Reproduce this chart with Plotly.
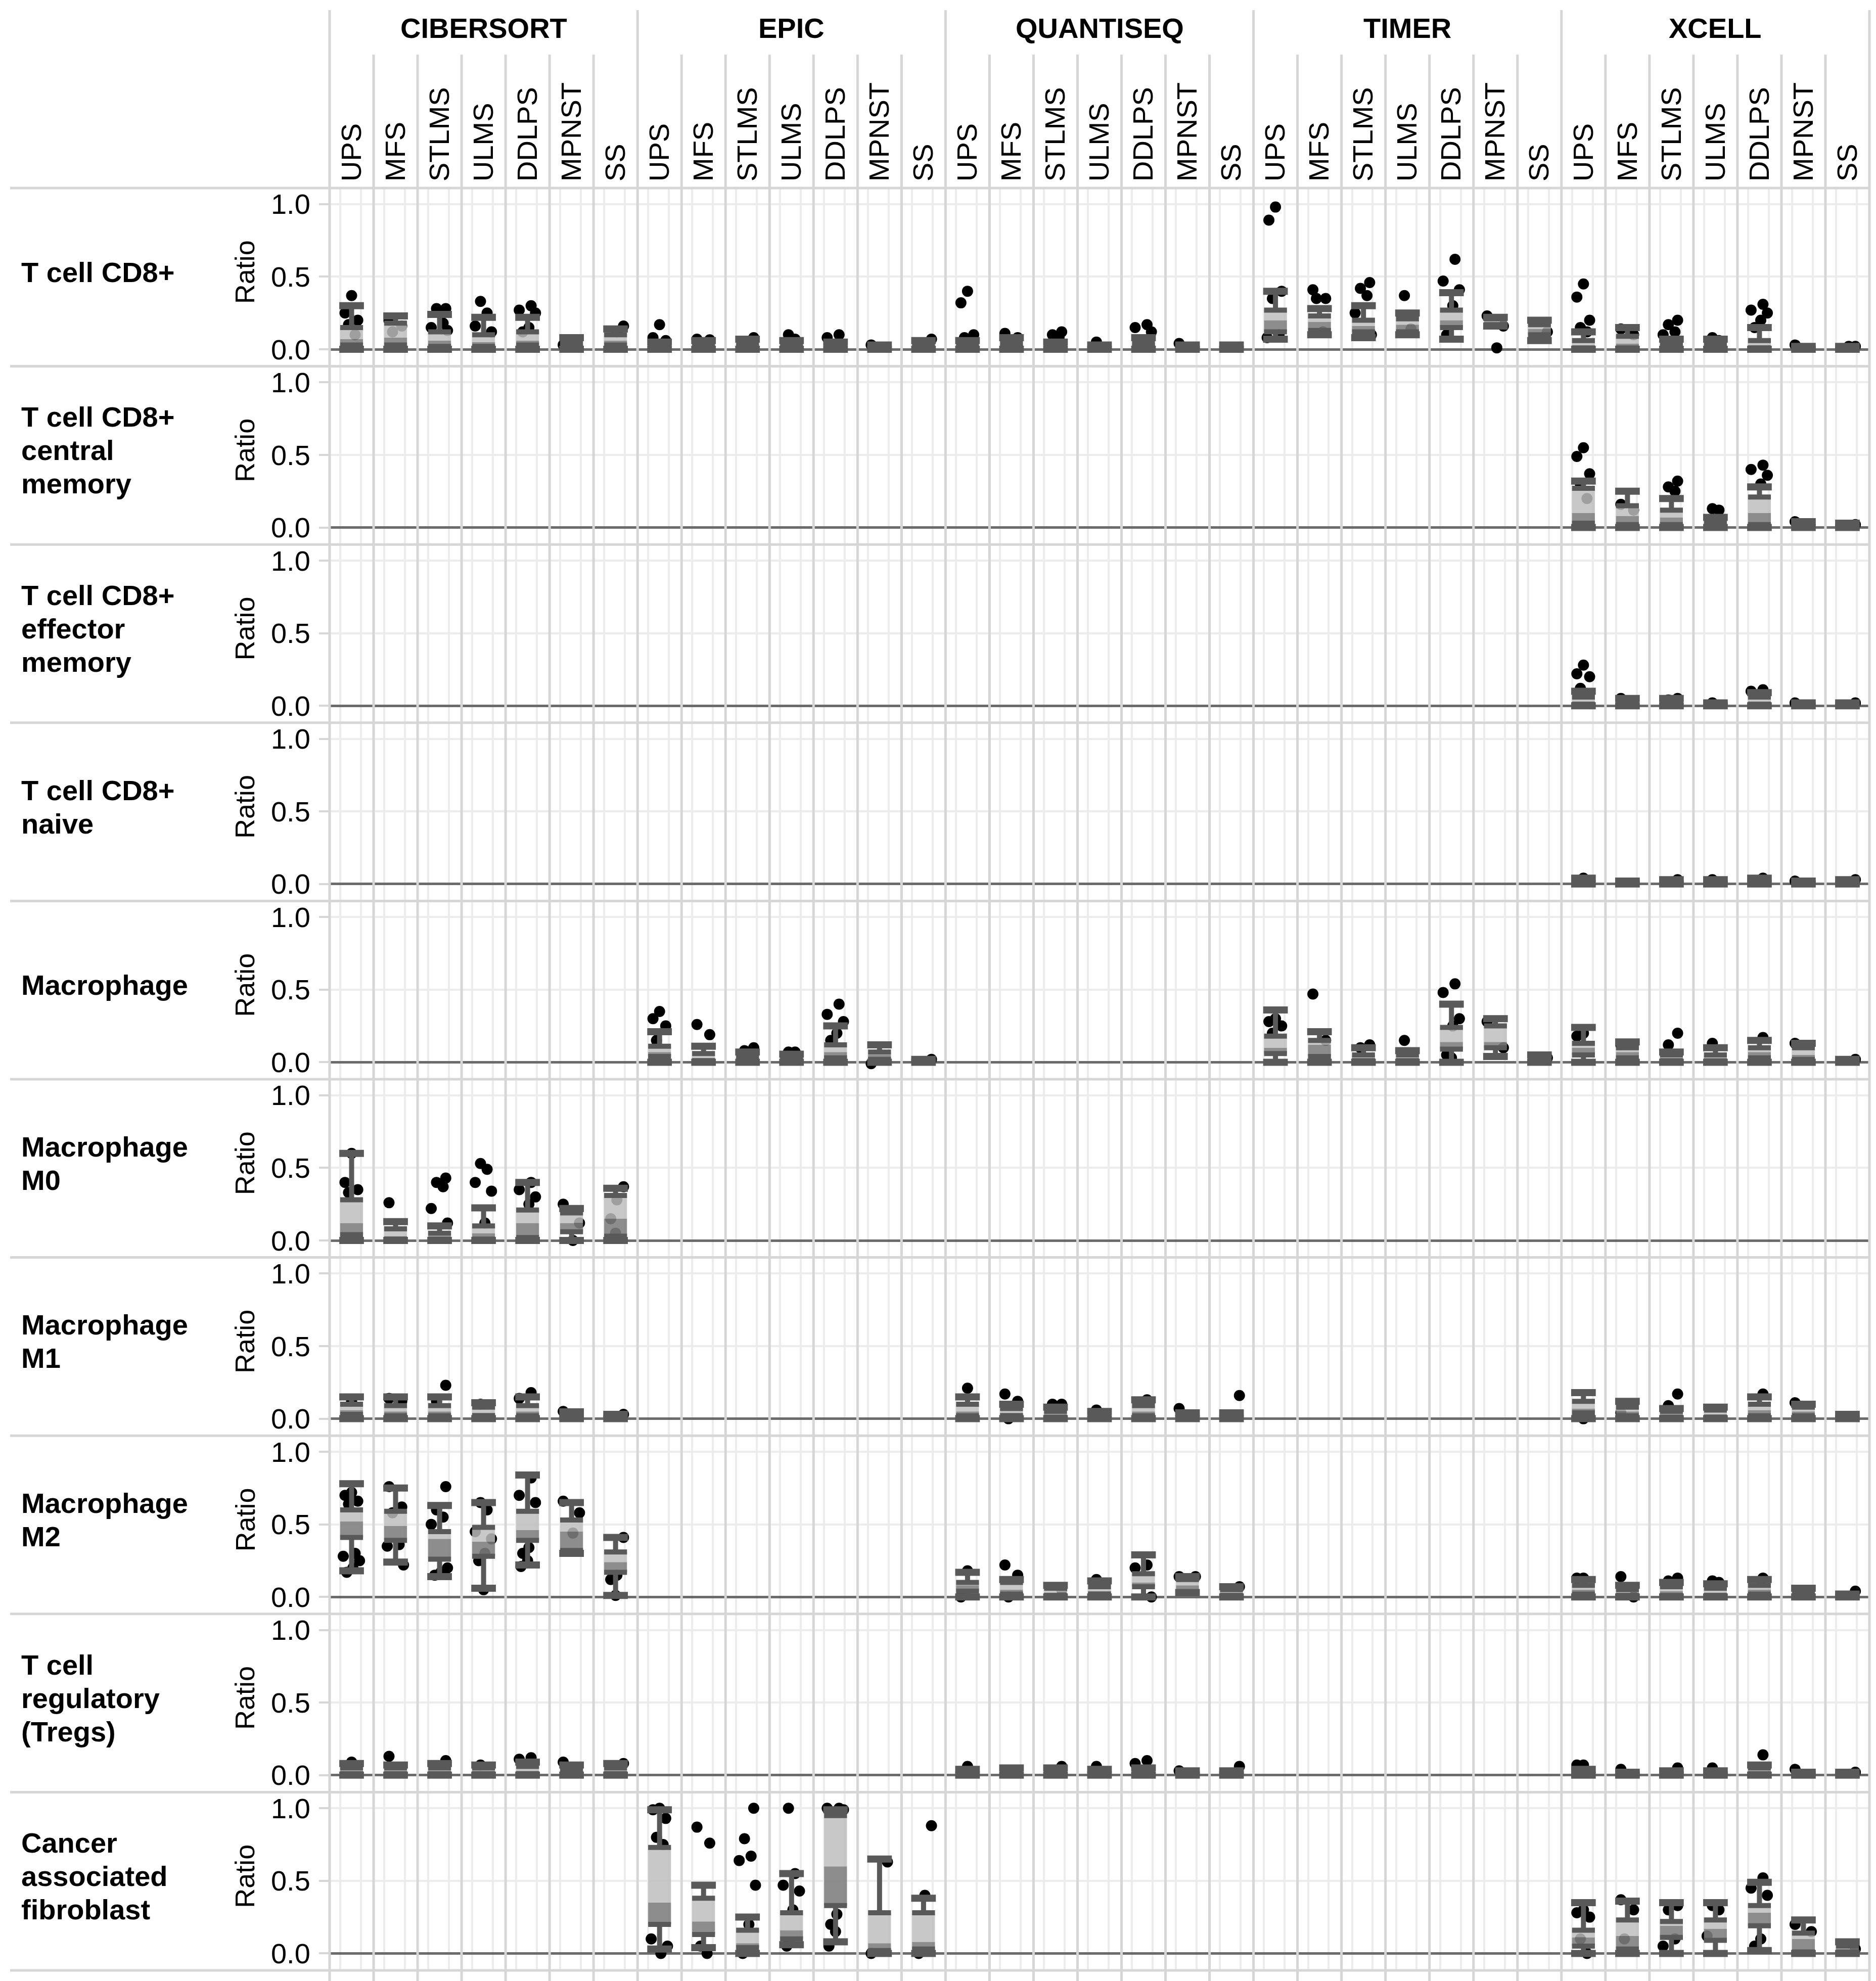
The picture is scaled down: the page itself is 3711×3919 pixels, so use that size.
import plotly.graph_objects as go
from plotly.subplots import make_subplots

# Categories
METHODS = ["CIBERSORT", "EPIC", "QUANTISEQ", "TIMER", "XCELL"]
SARCOMAS = ["UPS", "MFS", "STLMS", "ULMS", "DDLPS", "MPNST", "SS"]
CELL_LABELS = [
    ["T cell CD8+"],
    ["T cell CD8+", "central", "memory"],
    ["T cell CD8+", "effector", "memory"],
    ["T cell CD8+", "naive"],
    ["Macrophage"],
    ["Macrophage", "M0"],
    ["Macrophage", "M1"],
    ["Macrophage", "M2"],
    ["T cell", "regulatory", "(Tregs)"],
    ["Cancer", "associated", "fibroblast"],
]

# Box statistics per sarcoma type: (min, q1, median, q3, max), and single points
CD8_CIBERSORT = [(0, .03, .07, .15, .30), (0, .03, .08, .18, .23), (0, .02, .06, .12, .24), (0, .02, .05, .10, .22),
                 (0, .03, .06, .12, .22), (0, .01, .02, .04, .08), (0, .03, .06, .10, .14)]
CD8_CIBERSORT_PTS = [[.37, .25, .20, .17, .10], [.20, .16, .12], [.28, .28, .18, .15, .13], [.33, .25, .16, .12],
                     [.30, .27, .25, .15, .12], [.03], [.16, .12]]
CD8_EPIC = [(0, .005, .01, .02, .05), (0, .01, .02, .03, .06), (0, .01, .02, .04, .07), (0, .01, .02, .03, .06),
            (0, .01, .02, .03, .05), (0, .005, .01, .02, .03), (0, .01, .02, .03, .06)]
CD8_EPIC_PTS = [[.17, .08, .06], [.07, .065], [.08], [.10, .07], [.10, .08], [.03], [.07]]
CD8_QUANTISEQ = [(0, .01, .02, .03, .06), (0, .01, .02, .04, .08), (0, .01, .02, .03, .05), (0, .005, .01, .02, .03),
                 (0, .01, .02, .04, .08), (0, .005, .01, .02, .03), (0, .005, .01, .02, .03)]
CD8_QUANTISEQ_PTS = [[.40, .32, .10, .08], [.11, .08], [.12, .10, .08], [.05], [.17, .15, .12], [.04], []]
CD8_TIMER = [(.07, .12, .20, .27, .40), (.10, .13, .19, .23, .28), (.08, .12, .16, .20, .30), (.10, .12, .17, .21, .25),
             (.07, .15, .20, .27, .39), (.16, .17, .19, .21, .22), (.06, .10, .14, .17, .20)]
CD8_TIMER_PTS = [[.98, .89, .40, .35, .10, .08], [.41, .35, .35, .12], [.46, .42, .37, .25, .10], [.37, .14],
                 [.62, .47, .41, .30, .10], [.23, .16, .01], [.12]]
CD8_XCELL = [(0, .01, .02, .06, .12), (0, .01, .04, .09, .15), (0, .01, .02, .04, .07), (0, .01, .02, .04, .07),
             (0, .01, .03, .06, .15), (0, .005, .01, .015, .02), (0, .005, .01, .015, .02)]
CD8_XCELL_PTS = [[.45, .36, .20, .15, .12], [.14, .10], [.20, .17, .12, .10], [.08, .06], [.31, .27, .25, .20, .15],
                 [.03], [.02, .02]]

CD8CM_XCELL = [(0, .03, .10, .27, .32), (0, .02, .08, .15, .25), (0, .02, .07, .12, .20), (0, .005, .02, .04, .07),
               (0, .02, .10, .21, .28), (0, .005, .01, .02, .04), (0, .005, .01, .015, .03)]
CD8CM_XCELL_PTS = [[.55, .49, .37, .30, .20], [.16, .12], [.32, .28, .25], [.13, .12], [.43, .40, .36, .30], [.04],
                   [.02]]

CD8EM_XCELL = [(0, .01, .03, .06, .10), (0, .005, .02, .03, .05), (0, .005, .02, .03, .05), (0, .005, .01, .015, .02),
               (0, .01, .03, .06, .09), (0, .005, .01, .015, .02), (0, .005, .01, .015, .02)]
CD8EM_XCELL_PTS = [[.28, .22, .20, .12], [.05], [.05, .04], [.02], [.11, .10], [.02], [.02]]

CD8N_XCELL = [(0, .01, .02, .03, .04), (0, .005, .01, .015, .02), (0, .005, .01, .02, .03), (0, .005, .01, .02, .03),
              (0, .01, .02, .03, .04), (0, .005, .01, .015, .02), (0, .005, .01, .02, .03)]
CD8N_XCELL_PTS = [[.04], [], [.03], [.03], [.04], [.02], [.03]]

MAC_EPIC = [(0, .04, .07, .11, .21), (0, .01, .03, .06, .11), (0, .01, .02, .04, .07), (0, .01, .02, .03, .055),
            (0, .03, .07, .12, .25), (0, .02, .05, .07, .12), (0, .005, .01, .015, .02)]
MAC_EPIC_PTS = [[.35, .30, .25, .15], [.26, .19], [.10, .08], [.07, .07], [.40, .33, .28, .20, .15], [-.01], [.02]]
MAC_TIMER = [(0, .06, .10, .18, .36), (0, .04, .12, .15, .21), (0, .01, .03, .05, .10), (0, .01, .03, .05, .08),
             (0, .09, .14, .24, .40), (.04, .10, .14, .25, .30), (0, .01, .02, .03, .05)]
MAC_TIMER_PTS = [[.30, .28, .25, .20], [.47, .15], [.12, .10], [.15], [.54, .48, .30, .25, .05, .03], [.28, .10],
                 [.03]]
MAC_XCELL = [(0, .05, .10, .13, .24), (0, .03, .07, .10, .14), (0, .01, .03, .05, .07), (0, .01, .02, .05, .10),
             (0, .03, .07, .10, .15), (0, .02, .05, .10, .13), (0, .005, .01, .015, .02)]
MAC_XCELL_PTS = [[.20, .18], [.12], [.20, .12], [.13], [.17], [.13], [.02]]

M0_CIBERSORT = [(0, .04, .12, .28, .60), (0, .01, .03, .08, .13), (0, .01, .03, .05, .10), (0, .01, .05, .10, .225),
                (0, .02, .12, .21, .40), (0, .06, .12, .19, .22), (0, .03, .15, .31, .36)]
M0_CIBERSORT_PTS = [[.60, .40, .35, .33], [.26], [.43, .40, .37, .22, .12], [.53, .49, .40, .34, .12],
                    [.40, .35, .30, .25], [.25, .12, 0], [.37, .28, .15, .05]]

M1_CIBERSORT = [(0, .03, .06, .10, .15), (0, .02, .05, .09, .15), (0, .02, .05, .09, .15), (0, .02, .04, .08, .11),
                (0, .02, .05, .09, .15), (0, .01, .02, .03, .047), (0, .005, .01, .02, .03)]
M1_CIBERSORT_PTS = [[.12], [.14, .12], [.23, .12], [.10], [.18, .14], [.05], [.03]]
M1_QUANTISEQ = [(0, .02, .05, .10, .15), (0, .02, .04, .07, .10), (0, .01, .03, .05, .08), (0, .01, .02, .03, .05),
                (0, .02, .05, .09, .13), (0, .005, .01, .02, .04), (0, .005, .01, .02, .04)]
M1_QUANTISEQ_PTS = [[.21], [.17, .12, 0], [.10, .10], [.06], [.13], [.07], [.16]]
M1_XCELL = [(0, .04, .07, .12, .18), (0, .02, .05, .08, .12), (0, .01, .03, .05, .07), (0, .01, .03, .06, .08),
            (0, .02, .06, .10, .15), (0, .02, .05, .08, .10), (0, .005, .01, .02, .03)]
M1_XCELL_PTS = [[0], [.04], [.17, .09], [], [.17], [.11], []]

M2_CIBERSORT = [(.18, .41, .52, .60, .78), (.24, .39, .49, .59, .75), (.14, .26, .40, .45, .63),
                (.06, .28, .38, .48, .65), (.22, .39, .46, .59, .84), (.30, .32, .45, .53, .65),
                (.01, .17, .24, .31, .41)]
M2_CIBERSORT_PTS = [[.72, .70, .66, .64, .30, .28, .25, .20, .17], [.76, .62, .58, .36, .35, .22],
                    [.76, .60, .55, .50, .20, .17, .15], [.65, .60, .45, .40, .30, .25, .05],
                    [.82, .70, .65, .34, .30, .25, .21], [.66, .58, .44], [.41, .15, .12, .01]]
M2_QUANTISEQ = [(0, .04, .08, .10, .17), (0, .02, .05, .10, .12), (0, .01, .03, .06, .08), (0, .02, .04, .07, .11),
                (0, .07, .10, .16, .29), (.03, .03, .08, .12, .14), (0, .01, .03, .05, .07)]
M2_QUANTISEQ_PTS = [[.18, 0], [.22, .15, 0], [.05], [.12], [.22, .20, 0], [.14, .14], [.07]]
M2_XCELL = [(0, .02, .05, .08, .12), (0, .01, .03, .05, .08), (0, .01, .04, .07, .10), (0, .01, .03, .06, .09),
            (0, .02, .05, .08, .12), (0, .01, .02, .04, .06), (0, .005, .01, .015, .02)]
M2_XCELL_PTS = [[.13, .13], [.14, 0], [.13, .11], [.11, .10], [.13], [], [.04]]

TREG_CIBERSORT = [(0, .01, .03, .05, .08), (0, .01, .03, .05, .07), (0, .01, .03, .05, .08), (0, .01, .03, .05, .07),
                  (0, .01, .03, .06, .09), (0, .01, .02, .04, .07), (0, .01, .03, .05, .08)]
TREG_CIBERSORT_PTS = [[.09], [.13], [.10], [.07], [.12, .11], [.09], [.08]]
TREG_QUANTISEQ = [(0, .005, .01, .02, .04), (0, .005, .01, .03, .05), (0, .005, .01, .03, .05),
                  (0, .005, .01, .02, .04), (0, .005, .01, .03, .05), (0, .005, .01, .02, .03),
                  (0, .005, .01, .02, .03)]
TREG_QUANTISEQ_PTS = [[.06], [], [.06], [.06], [.10, .08], [.03], [.06]]
TREG_XCELL = [(0, .005, .01, .02, .04), (0, .005, .01, .015, .02), (0, .005, .01, .02, .03), (0, .005, .01, .02, .03),
              (0, .01, .03, .05, .07), (0, .005, .01, .015, .02), (0, .005, .01, .015, .02)]
TREG_XCELL_PTS = [[.07, .07], [.04], [.05], [.05], [.14], [.04], [.02]]

CAF_EPIC = [(.03, .20, .35, .73, .99), (.04, .13, .22, .38, .47), (0, .04, .07, .16, .25), (.06, .10, .16, .28, .55),
            (.08, .33, .60, .95, .99), (0, .02, .07, .28, .65), (0, .03, .08, .28, .38)]
CAF_EPIC_PTS = [[1.0, .99, .93, .80, .75, .10, .05, 0], [.87, .76, .05, 0], [1.0, .79, .67, .64, .47, .20, 0],
                [1.0, .55, .47, .43, .30, .05], [1.0, 1.0, .99, .27, .20, .15, .05], [0, .63], [.88, .40, 0]]
CAF_XCELL = [(0, .05, .11, .16, .35), (0, .03, .12, .23, .36), (0, .11, .19, .22, .35), (0, .09, .17, .23, .35),
             (.02, .19, .28, .33, .49), (0, .01, .10, .14, .23), (0, .01, .03, .05, .08)]
CAF_XCELL_PTS = [[.30, .28, .25, .10, 0], [.37, .30, .10], [.33, .30, .10, .05], [.33, .30, .12],
                 [.52, .45, .40, .10, .05], [.20, .15], [.03]]

# (row, method) -> (stats, points)
PANELS = {
    (0, "CIBERSORT"): (CD8_CIBERSORT, CD8_CIBERSORT_PTS),
    (0, "EPIC"): (CD8_EPIC, CD8_EPIC_PTS),
    (0, "QUANTISEQ"): (CD8_QUANTISEQ, CD8_QUANTISEQ_PTS),
    (0, "TIMER"): (CD8_TIMER, CD8_TIMER_PTS),
    (0, "XCELL"): (CD8_XCELL, CD8_XCELL_PTS),
    (1, "XCELL"): (CD8CM_XCELL, CD8CM_XCELL_PTS),
    (2, "XCELL"): (CD8EM_XCELL, CD8EM_XCELL_PTS),
    (3, "XCELL"): (CD8N_XCELL, CD8N_XCELL_PTS),
    (4, "EPIC"): (MAC_EPIC, MAC_EPIC_PTS),
    (4, "TIMER"): (MAC_TIMER, MAC_TIMER_PTS),
    (4, "XCELL"): (MAC_XCELL, MAC_XCELL_PTS),
    (5, "CIBERSORT"): (M0_CIBERSORT, M0_CIBERSORT_PTS),
    (6, "CIBERSORT"): (M1_CIBERSORT, M1_CIBERSORT_PTS),
    (6, "QUANTISEQ"): (M1_QUANTISEQ, M1_QUANTISEQ_PTS),
    (6, "XCELL"): (M1_XCELL, M1_XCELL_PTS),
    (7, "CIBERSORT"): (M2_CIBERSORT, M2_CIBERSORT_PTS),
    (7, "QUANTISEQ"): (M2_QUANTISEQ, M2_QUANTISEQ_PTS),
    (7, "XCELL"): (M2_XCELL, M2_XCELL_PTS),
    (8, "CIBERSORT"): (TREG_CIBERSORT, TREG_CIBERSORT_PTS),
    (8, "QUANTISEQ"): (TREG_QUANTISEQ, TREG_QUANTISEQ_PTS),
    (8, "XCELL"): (TREG_XCELL, TREG_XCELL_PTS),
    (9, "EPIC"): (CAF_EPIC, CAF_EPIC_PTS),
    (9, "XCELL"): (CAF_XCELL, CAF_XCELL_PTS),
}

# Layout in pixels
W, H = 3711, 3919
LEFT, RIGHT = 644, 3690
HEAD, BOTTOM = 364, 3890
COL_W = (RIGHT - LEFT) / 5
ROW_H = (BOTTOM - HEAD) / 10
LINE_H = 66
FONT = "Liberation Sans"
DARK = "#595959"
SEP = "#d6d6d6"
LIGHT = "#ececec"
BOX_HW, CAP_HW = 0.26, 0.28
JITTER = [0.0, -0.15, 0.14, -0.07, 0.08, -0.19, 0.18, 0.03, -0.11]

fig = make_subplots(rows=10, cols=5, horizontal_spacing=0, vertical_spacing=0)

for r in range(10):
    for c in range(5):
        fig.update_xaxes(domain=[(LEFT + c * COL_W) / W, (LEFT + (c + 1) * COL_W) / W], row=r + 1, col=c + 1)
        fig.update_yaxes(domain=[1 - (HEAD + (r + 1) * ROW_H) / H, 1 - (HEAD + r * ROW_H) / H],
                         row=r + 1, col=c + 1)
        # an empty trace so that every panel gets its grid drawn
        fig.add_trace(go.Scatter(x=[None], y=[None], mode="markers", hoverinfo="skip"), row=r + 1, col=c + 1)


def add_panel(r, c, stats, pts):
    # jittered points first, so the boxes sit on top of them
    xs, ys = [], []
    for i, vals in enumerate(pts):
        for k, v in enumerate(vals):
            xs.append(i + JITTER[(k + i) % len(JITTER)])
            ys.append(v)
    fig.add_trace(go.Scatter(x=xs, y=ys, mode="markers", marker=dict(color="black", size=22),
                             hoverinfo="skip"), row=r + 1, col=c + 1)

    lo_x, lo_y, up_x, up_y = [], [], [], []
    wx, wy, cx, cy, qx, qy = [], [], [], [], [], []
    for i, (lo, q1, md, q3, hi) in enumerate(stats):
        lo_x += [i - BOX_HW, i + BOX_HW, i + BOX_HW, i - BOX_HW, i - BOX_HW, None]
        lo_y += [q1, q1, md, md, q1, None]
        up_x += [i - BOX_HW, i + BOX_HW, i + BOX_HW, i - BOX_HW, i - BOX_HW, None]
        up_y += [md, md, q3, q3, md, None]
        wx += [i, i, None, i, i, None]
        wy += [lo, q1, None, q3, hi, None]
        cx += [i - CAP_HW, i + CAP_HW, None, i - CAP_HW, i + CAP_HW, None]
        cy += [lo, lo, None, hi, hi, None]
        qx += [i - BOX_HW, i + BOX_HW, None, i - BOX_HW, i + BOX_HW, None]
        qy += [q1, q1, None, q3, q3, None]

    fig.add_trace(go.Scatter(x=lo_x, y=lo_y, mode="lines", fill="toself", fillcolor="rgba(125,125,125,0.88)",
                             line=dict(width=0), hoverinfo="skip"), row=r + 1, col=c + 1)
    fig.add_trace(go.Scatter(x=up_x, y=up_y, mode="lines", fill="toself", fillcolor="rgba(190,190,190,0.84)",
                             line=dict(width=0), hoverinfo="skip"), row=r + 1, col=c + 1)
    fig.add_trace(go.Scatter(x=wx, y=wy, mode="lines", line=dict(color=DARK, width=10),
                             hoverinfo="skip"), row=r + 1, col=c + 1)
    fig.add_trace(go.Scatter(x=qx, y=qy, mode="lines", line=dict(color=DARK, width=10),
                             hoverinfo="skip"), row=r + 1, col=c + 1)
    fig.add_trace(go.Scatter(x=cx, y=cy, mode="lines", line=dict(color=DARK, width=14),
                             hoverinfo="skip"), row=r + 1, col=c + 1)


for (r, method), (stats, pts) in PANELS.items():
    add_panel(r, METHODS.index(method), stats, pts)

# Axes
fig.update_xaxes(range=[-0.5, 6.5], showgrid=False, zeroline=False, showline=False, ticks="",
                 showticklabels=False, tickvals=list(range(7)), ticktext=SARCOMAS,
                 minor=dict(tickvals=[i + d for i in range(7) for d in (-0.26, 0.21)], showgrid=True,
                            gridcolor=LIGHT, gridwidth=4, ticks=""))
for c in range(5):
    fig.update_xaxes(showticklabels=True, side="top", tickangle=-90, ticklabelstandoff=12,
                     tickfont=dict(family=FONT, size=56, color="black"), row=1, col=c + 1)

fig.update_yaxes(range=[-0.117, 1.111], tickvals=[0, 0.5, 1], ticktext=["0.0", "0.5", "1.0"],
                 showgrid=True, gridcolor=LIGHT, gridwidth=4, zeroline=True, zerolinecolor="#6b6b6b",
                 zerolinewidth=5, showline=False, showticklabels=False, ticks="")
fig.update_yaxes(showticklabels=True, ticks="outside", ticklen=20, tickwidth=4, tickcolor=SEP,
                 ticklabelstandoff=6, tickfont=dict(family=FONT, size=56, color="black"), col=1)

# Header and row labels
annotations = []
for c, m in enumerate(METHODS):
    annotations.append(dict(text=m, x=(LEFT + (c + 0.5) * COL_W) / W, y=1 - 48 / H, xref="paper", yref="paper",
                            xanchor="center", yanchor="middle", showarrow=False,
                            font=dict(family=FONT, size=56, color="black", weight="bold")))
for r, lines in enumerate(CELL_LABELS):
    yc = HEAD + (r + 0.5) * ROW_H
    for j, line in enumerate(lines):
        yl = yc - 10 + (j - (len(lines) - 1) / 2) * LINE_H
        annotations.append(dict(text=line, x=32 / W, y=1 - yl / H, xref="paper", yref="paper", xanchor="left",
                                yanchor="middle", showarrow=False,
                                font=dict(family=FONT, size=56, color="black", weight="bold")))
    annotations.append(dict(text="Ratio", x=476 / W, y=1 - (yc - 10) / H, xref="paper", yref="paper",
                            textangle=-90, xanchor="center", yanchor="middle", showarrow=False,
                            font=dict(family=FONT, size=54, color="black")))

# Separator lines
shapes = []
for k in range(11):
    y = 1 - (HEAD + k * ROW_H) / H
    shapes.append(dict(type="line", xref="paper", yref="paper", x0=12 / W, x1=(RIGHT + 2) / W, y0=y, y1=y,
                       line=dict(color=SEP, width=5)))
for c in range(6):
    x = (LEFT + c * COL_W) / W
    shapes.append(dict(type="line", xref="paper", yref="paper", x0=x, x1=x, y0=0, y1=1 - 12 / H,
                       line=dict(color=SEP, width=5)))
for c in range(5):
    xref = "x" if c == 0 else f"x{c + 1}"
    for b in range(6):
        shapes.append(dict(type="line", xref=xref, yref="paper", x0=b + 0.5, x1=b + 0.5, y0=0, y1=1 - 100 / H,
                           line=dict(color=SEP, width=5)))

fig.update_layout(
    width=W, height=H,
    margin=dict(l=0, r=0, t=0, b=0),
    paper_bgcolor="white", plot_bgcolor="rgba(0,0,0,0)",
    showlegend=False,
    font=dict(family=FONT, size=56, color="black"),
    annotations=annotations,
    shapes=shapes,
)

fig.write_html("out.html")
